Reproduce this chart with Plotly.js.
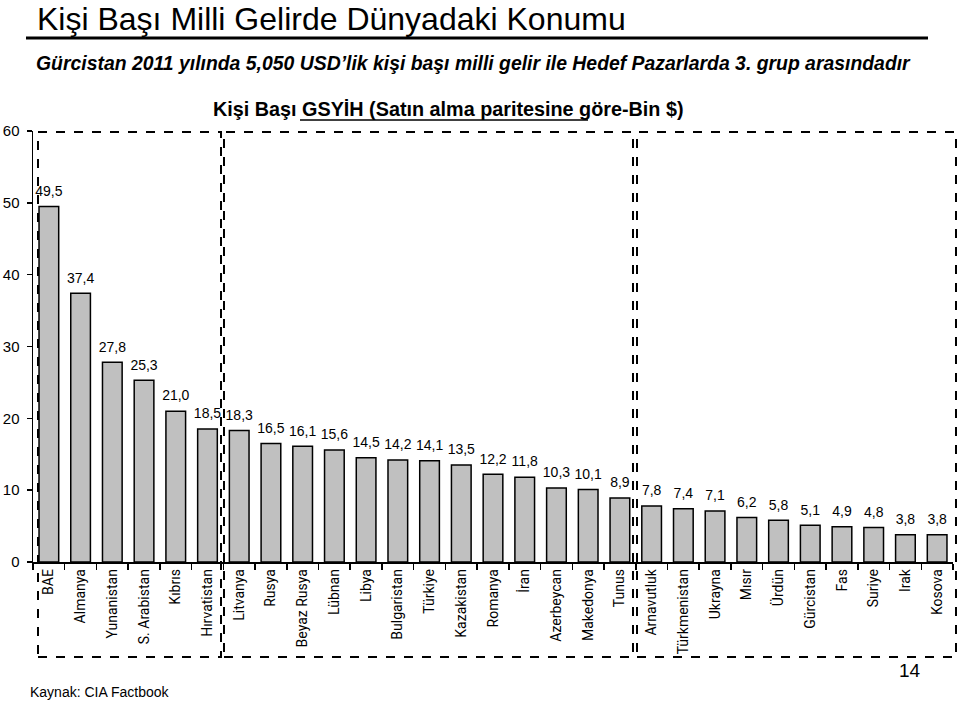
<!DOCTYPE html>
<html>
<head>
<meta charset="utf-8">
<script src="https://cdn.plot.ly/plotly-3.0.1.min.js"></script>
<style>
  html, body { margin: 0; padding: 0; background: #ffffff; }
  #chart { width: 959px; height: 702px; }
</style>
</head>
<body>
<div id="chart"></div>
<script>
// ---- Data ----
const countries = [
  "BAE", "Almanya", "Yunanistan", "S. Arabistan", "Kıbrıs", "Hırvatistan",
  "Litvanya", "Rusya", "Beyaz Rusya", "Lübnan", "Libya", "Bulgaristan",
  "Türkiye", "Kazakistan", "Romanya", "İran", "Azerbeycan", "Makedonya", "Tunus",
  "Arnavutluk", "Türkmenistan", "Ukrayna", "Mısır", "Ürdün", "Gürcistan",
  "Fas", "Suriye", "Irak", "Kosova"
];
const gdpPerCapita = [
  49.5, 37.4, 27.8, 25.3, 21.0, 18.5,
  18.3, 16.5, 16.1, 15.6, 14.5, 14.2,
  14.1, 13.5, 12.2, 11.8, 10.3, 10.1, 8.9,
  7.8, 7.4, 7.1, 6.2, 5.8, 5.1,
  4.9, 4.8, 3.8, 3.8
];
const yTicks = [0, 10, 20, 30, 40, 50, 60];

const mainTitle = "Kişi Başı Milli Gelirde Dünyadaki Konumu";
const subTitle = "Gürcistan 2011 yılında 5,050 USD’lik kişi başı milli gelir ile Hedef Pazarlarda 3. grup arasındadır";
const chartTitle = "Kişi Başı GSYİH (Satın alma paritesine göre-Bin $)";
const sourceText = "Kaynak: CIA Factbook";
const pageNo = "14";

// ---- Layout helpers (pixel -> paper) ----
const W = 959, H = 702;
const mL = 33, mR = 6, mT = 131, mB = 140;
const pw = W - mL - mR, ph = H - mT - mB;
const px = x => (x - mL) / pw;
const py = y => (H - mB - y) / ph;

const FONT = "Liberation Sans, Arial, sans-serif";
const NARROW = "Roboto, Liberation Sans, Arial, sans-serif";

const bars = {
  type: "bar",
  x: countries,
  y: gdpPerCapita,
  marker: { color: "#c0c0c0", line: { color: "#000000", width: 1.5 } },
  hoverinfo: "skip",
  cliponaxis: false
};

const labels = {
  type: "scatter",
  mode: "markers+text",
  x: countries,
  y: gdpPerCapita,
  texttemplate: "%{y:.1f}",
  textposition: "top center",
  textfont: { family: FONT, size: 14, color: "#000000" },
  marker: { size: 10, opacity: 0 },
  hoverinfo: "skip",
  cliponaxis: false
};

function box(x0, x1) {
  return {
    type: "rect", xref: "paper", yref: "paper",
    x0: px(x0), x1: px(x1), y0: py(657), y1: py(132),
    line: { color: "#000000", width: 2, dash: "dash" },
    fillcolor: "rgba(0,0,0,0)", layer: "above"
  };
}

const layout = {
  width: W, height: H,
  margin: { l: mL, r: mR, t: mT, b: mB, pad: 0 },
  paper_bgcolor: "#ffffff",
  plot_bgcolor: "#ffffff",
  showlegend: false,
  hovermode: false,
  bargap: 0.38,
  separators: ",.",
  xaxis: {
    type: "category",
    range: [-0.5, countries.length - 0.5],
    showline: true, linecolor: "#000000", linewidth: 1.5,
    ticks: "outside", ticklen: 6, tickwidth: 1.5, tickcolor: "#000000",
    tickson: "boundaries",
    tickangle: -90,
    tickfont: { family: NARROW, size: 14, color: "#000000" },
    showgrid: false, zeroline: false, fixedrange: true
  },
  yaxis: {
    range: [0, 60],
    tickvals: yTicks,
    showline: true, linecolor: "#000000", linewidth: 1.5,
    ticks: "outside", ticklen: 5, tickwidth: 1.5, tickcolor: "#000000",
    tickfont: { family: FONT, size: 15, color: "#000000" },
    ticklabelstandoff: 4,
    showgrid: false, zeroline: false, fixedrange: true
  },
  shapes: [
    box(38, 221),
    box(224, 633),
    box(637, 956),
    { type: "line", xref: "paper", yref: "paper",
      x0: px(26), x1: px(928), y0: py(38), y1: py(38),
      line: { color: "#000000", width: 3 } },
    { type: "line", xref: "paper", yref: "paper",
      x0: px(300), x1: px(588), y0: py(120), y1: py(120),
      line: { color: "#000000", width: 1.5 } }
  ],
  annotations: [
    { text: mainTitle, xref: "paper", yref: "paper", x: px(35), y: py(19),
      xanchor: "left", yanchor: "middle", showarrow: false,
      font: { family: FONT, size: 32, color: "#000000" } },
    { text: "<b><i>" + subTitle + "</i></b>", xref: "paper", yref: "paper", x: px(34), y: py(63),
      xanchor: "left", yanchor: "middle", showarrow: false,
      font: { family: FONT, size: 19.4, color: "#000000" } },
    { text: "<b>" + chartTitle + "</b>", xref: "paper", yref: "paper", x: px(211), y: py(109),
      xanchor: "left", yanchor: "middle", showarrow: false,
      font: { family: FONT, size: 19.8, color: "#000000" } },
    { text: sourceText, xref: "paper", yref: "paper", x: px(28), y: py(692),
      xanchor: "left", yanchor: "middle", showarrow: false,
      font: { family: FONT, size: 14, color: "#000000" } },
    { text: pageNo, xref: "paper", yref: "paper", x: px(910), y: py(670),
      xanchor: "center", yanchor: "middle", showarrow: false,
      font: { family: FONT, size: 19, color: "#000000" } }
  ]
};

Plotly.newPlot("chart", [bars, labels], layout, { displayModeBar: false, staticPlot: true });
</script>
</body>
</html>
